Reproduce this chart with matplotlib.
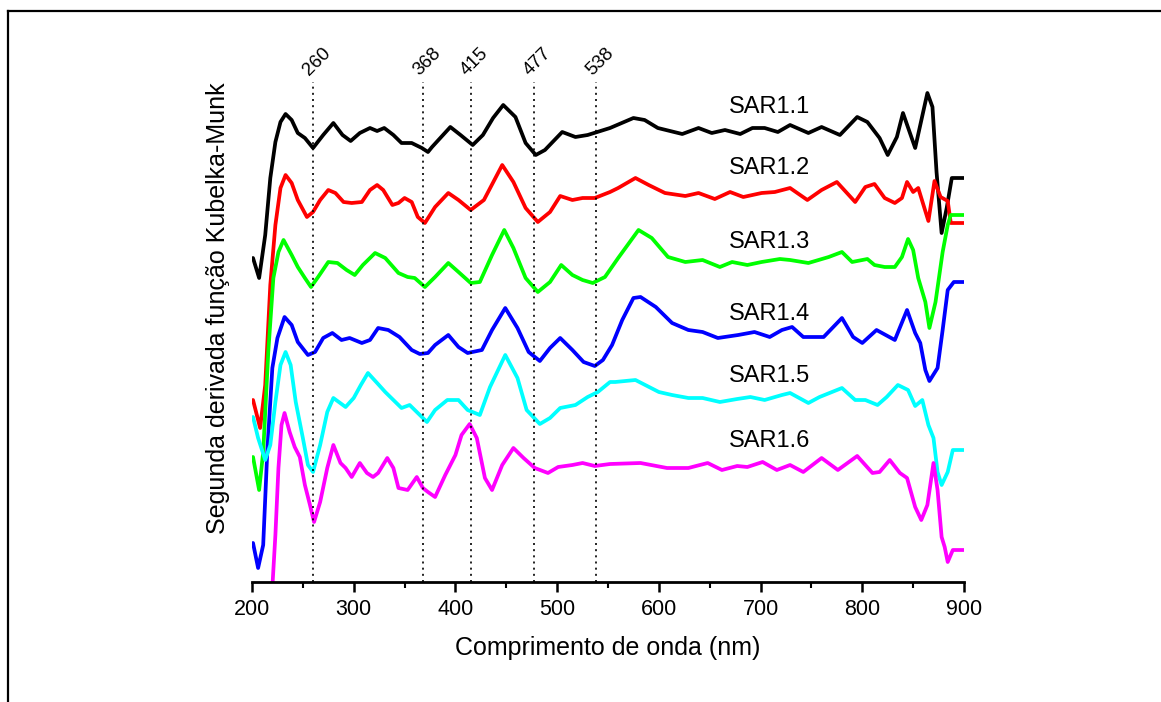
import numpy as np
import matplotlib
matplotlib.use("Agg")
import matplotlib.pyplot as plt
from matplotlib.lines import Line2D

plt.rcParams['font.family'] = ['Liberation Sans', 'DejaVu Sans']

# second derivative of Kubelka-Munk, stacked curves (arbitrary units, offset per sample)
wl_11 = [201, 207, 213, 218, 223, 228, 233, 239, 245, 252, 260, 270, 280, 289, 297, 306, 316, 323, 330,
         339, 347, 357, 367, 373, 377, 395, 405, 417, 427, 437, 447, 459, 469, 479, 488, 505, 518, 530,
         552, 575, 586, 599, 623, 639, 652, 665, 680, 692, 704, 717, 729, 747, 760, 778, 795, 805, 817,
         825, 834, 840, 852, 864, 869, 873, 878, 883, 888, 900]
km_11 = [324, 304, 347, 404, 440, 460, 468, 462, 449, 444, 434, 447, 459, 447, 441, 449, 454, 451, 454,
         447, 439, 439, 434, 430, 435, 455, 447, 437, 447, 464, 477, 465, 439, 427, 432, 450, 445, 447,
         454, 464, 462, 454, 448, 454, 449, 452, 448, 454, 454, 450, 457, 449, 455, 447, 465, 460, 444,
         427, 445, 469, 434, 489, 475, 410, 349, 374, 404, 404]

wl_12 = [201, 208, 213, 218, 223, 228, 233, 239, 245, 254, 260, 267, 275, 282, 290, 298, 308, 316, 323,
         329, 338, 344, 350, 357, 363, 370, 380, 393, 403, 415, 428, 446, 457, 469, 481, 493, 503, 515,
         525, 537, 552, 560, 577, 590, 606, 626, 639, 655, 670, 683, 701, 714, 729, 746, 760, 775, 793,
         803, 812, 822, 832, 839, 844, 850, 855, 865, 871, 877, 884, 887, 900]
km_12 = [182, 154, 197, 297, 357, 394, 407, 399, 382, 365, 370, 382, 392, 389, 380, 379, 380, 392, 397,
         392, 377, 379, 384, 380, 365, 359, 375, 389, 382, 372, 382, 417, 400, 374, 360, 370, 386, 382,
         384, 384, 390, 394, 404, 397, 389, 386, 389, 383, 390, 385, 389, 390, 394, 382, 392, 400, 380,
         395, 398, 384, 379, 384, 400, 390, 394, 361, 401, 385, 381, 359, 359]

wl_13 = [201, 207, 211, 216, 221, 226, 231, 239, 245, 252, 258, 265, 275, 284, 293, 301, 309, 321, 331,
         344, 353, 360, 370, 380, 393, 403, 415, 424, 436, 448, 457, 469, 481, 493, 504, 515, 525, 535,
         547, 560, 580, 593, 609, 626, 643, 660, 672, 687, 701, 719, 729, 747, 767, 780, 790, 805, 812,
         822, 832, 839, 845, 850, 855, 862, 866, 872, 879, 884, 887, 900]
km_13 = [125, 92, 130, 230, 304, 330, 342, 327, 315, 304, 295, 305, 320, 319, 312, 307, 317, 329, 324,
         309, 305, 304, 295, 305, 319, 310, 299, 300, 327, 352, 334, 304, 290, 300, 317, 307, 302, 299,
         305, 324, 352, 344, 325, 320, 322, 315, 320, 317, 320, 323, 322, 319, 325, 330, 320, 323, 317,
         315, 315, 325, 343, 332, 304, 280, 254, 280, 330, 357, 367, 367]

wl_14 = [201, 206, 211, 215, 220, 225, 232, 239, 245, 255, 262, 270, 279, 288, 296, 308, 316, 324, 334,
         345, 357, 365, 373, 380, 393, 403, 412, 426, 436, 449, 461, 472, 483, 493, 503, 515, 526, 537,
         545, 554, 564, 575, 582, 597, 613, 629, 643, 658, 678, 694, 709, 721, 731, 742, 762, 780, 791,
         800, 814, 832, 844, 852, 857, 862, 866, 874, 879, 884, 890, 900]
km_14 = [39, 14, 37, 130, 214, 244, 265, 257, 240, 227, 230, 244, 249, 242, 244, 239, 242, 254, 252,
         245, 232, 228, 229, 237, 247, 235, 229, 232, 252, 274, 254, 230, 221, 234, 244, 232, 220, 216,
         222, 237, 262, 284, 285, 275, 259, 252, 250, 244, 247, 250, 245, 252, 255, 245, 245, 264, 245,
         239, 252, 242, 272, 249, 239, 212, 201, 214, 252, 292, 300, 300]

wl_15 = [201, 206, 213, 218, 223, 228, 233, 238, 243, 250, 255, 260, 267, 274, 280, 292, 300, 307, 314,
         323, 331, 339, 347, 355, 363, 372, 380, 392, 403, 412, 424, 434, 449, 461, 470, 483, 493, 503,
         518, 530, 540, 552, 557, 577, 600, 613, 629, 643, 660, 677, 690, 704, 721, 729, 747, 758, 780,
         793, 803, 815, 824, 835, 845, 852, 859, 865, 870, 874, 878, 884, 889, 900]
km_15 = [165, 144, 122, 137, 180, 217, 230, 217, 180, 144, 117, 110, 137, 170, 184, 175, 184, 197, 209,
         199, 190, 182, 174, 177, 169, 160, 172, 182, 182, 172, 167, 195, 227, 204, 172, 158, 164, 174,
         177, 185, 190, 200, 200, 202, 190, 187, 184, 184, 180, 183, 185, 182, 187, 189, 179, 185, 194,
         182, 182, 177, 185, 197, 192, 176, 182, 157, 144, 110, 97, 110, 132, 132]

wl_16 = [219, 223, 226, 229, 232, 237, 242, 247, 252, 257, 261, 267, 274, 280, 287, 292, 298, 306, 313,
         319, 324, 333, 339, 344, 353, 362, 368, 373, 380, 390, 400, 406, 414, 421, 429, 436, 446, 457,
         467, 478, 491, 501, 515, 525, 537, 552, 582, 608, 629, 648, 662, 677, 687, 702, 716, 729, 742,
         760, 776, 795, 810, 817, 827, 837, 844, 852, 858, 864, 870, 874, 878, 881, 884, 889, 900]
km_16 = [-23, 47, 114, 157, 169, 150, 135, 125, 97, 77, 60, 80, 114, 137, 119, 114, 105, 119, 109,
         105, 109, 124, 114, 94, 92, 105, 94, 90, 85, 107, 127, 147, 158, 144, 104, 92, 117, 134,
         124, 114, 109, 115, 117, 119, 116, 118, 119, 114, 114, 119, 112, 116, 115, 120, 112, 117, 110,
         124, 112, 126, 109, 110, 122, 109, 104, 75, 62, 77, 119, 92, 45, 35, 20, 32, 32]

samples = ['SAR1.1', 'SAR1.2', 'SAR1.3', 'SAR1.4', 'SAR1.5', 'SAR1.6']
label_y = [475, 414, 340, 268, 206, 141]
colors = ['#000000', '#ff0000', '#00ff00', '#0000ff', '#00ffff', '#ff00ff']
peaks = [260, 368, 415, 477, 538]

W, H = 1161, 702
fig = plt.figure(figsize=(W / 100, H / 100), dpi=100)
ax = fig.add_axes([252 / W, 1 - 582 / H, 712 / W, 562 / H])

curves = [(wl_11, km_11), (wl_12, km_12), (wl_13, km_13),
          (wl_14, km_14), (wl_15, km_15), (wl_16, km_16)]
for (wl, km), c in zip(curves, colors):
    ax.plot(wl, km, color=c, lw=2.7, solid_joinstyle='round', solid_capstyle='round')

for name, yl in zip(samples, label_y):
    ax.text(669, yl, name, fontsize=17, ha='left', va='center')

ax.vlines(peaks, 0, 500, colors='k', linestyles=(0, (1.2, 2.5)), lw=1.2)
for p in peaks:
    ax.text(p - 1, 503, str(p), rotation=45, rotation_mode='anchor',
            ha='left', va='bottom', fontsize=13.5)

ax.set_xlim(200, 900)
ax.set_ylim(0, 562)
for s in ['left', 'right', 'top']:
    ax.spines[s].set_visible(False)
ax.spines['bottom'].set_linewidth(2)
ax.set_yticks([])
ax.set_xticks(np.arange(200, 901, 100))
ax.set_xticks(np.arange(250, 900, 100), minor=True)
ax.tick_params(axis='x', which='major', direction='out', length=7, width=1.8, labelsize=15.5, pad=5)
ax.tick_params(axis='x', which='minor', direction='out', length=4, width=1.5)

fig.text(608 / W, 1 - 648 / H, 'Comprimento de onda (nm)', fontsize=18, ha='center', va='center')
fig.text(218 / W, 1 - 308 / H, 'Segunda derivada função Kubelka-Munk', fontsize=18,
         rotation=90, ha='center', va='center')

# partial frame around the figure
fig.add_artist(Line2D([8 / W, 8 / W], [0, 1 - 11 / H], transform=fig.transFigure, color='k', lw=1.6))
fig.add_artist(Line2D([8 / W, 1], [1 - 11 / H, 1 - 11 / H], transform=fig.transFigure, color='k', lw=1.6))

fig.savefig('out.png', dpi=100)
